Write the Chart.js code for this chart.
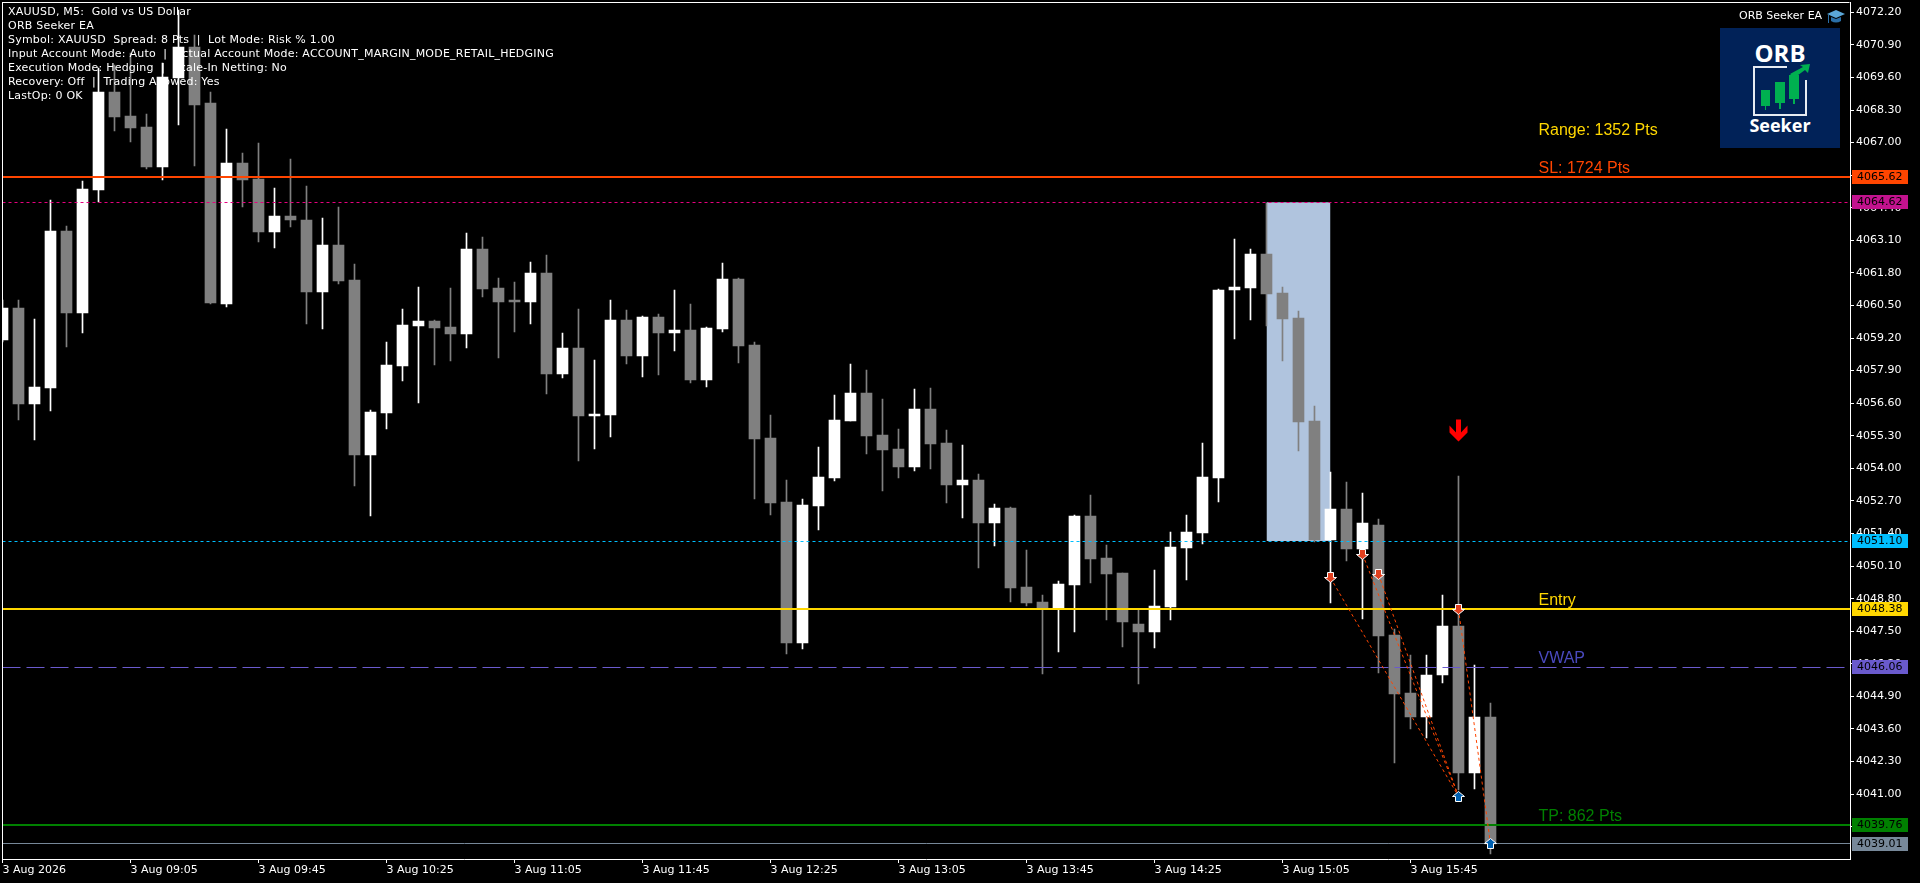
<!DOCTYPE html>
<html>
<head>
<meta charset="utf-8">
<title>XAUUSD, M5</title>
<script src="https://cdn.jsdelivr.net/npm/chart.js@4/dist/chart.umd.js"></script>
<style>
    html, body { margin: 0; padding: 0; background: #000; overflow: hidden; }
    #stage { position: relative; width: 1920px; height: 883px; }
    #chart { display: block; }
    #info {
        position: absolute; left: 8px; top: 5px;
        color: #fff; font: 11px/14px "DejaVu Sans", sans-serif; white-space: pre; letter-spacing: 0.22px;
    }
    #eaName {
        position: absolute; left: 1739px; top: 9px;
        color: #fff; font: 11px/14px "DejaVu Sans", sans-serif;
    }
    #hat { position: absolute; left: 1826px; top: 8px; }
    #logo { position: absolute; left: 1720px; top: 28px; }
</style>
</head>
<body>
<div id="stage">
    <canvas id="chart" width="1920" height="883"></canvas>
    <div id="info"></div>
    <div id="eaName">ORB Seeker EA</div>
    <svg id="hat" width="20" height="18" viewBox="0 0 20 18">
        <polygon points="1,6 10,2 19,6 10,10" fill="#5ba7d8"/>
        <path d="M5,9 L5,13 Q10,16 15,13 L15,9 L10,11 Z" fill="#2a6fa8"/>
        <rect x="2" y="7" width="1" height="8" fill="#2a6fa8"/>
    </svg>
    <svg id="logo" width="120" height="120" viewBox="0 0 120 120">
        <rect width="120" height="120" fill="#012258"/>
        <text x="60" y="34" text-anchor="middle" fill="#fff" font-family="Open Sans" font-weight="700" font-size="24">ORB</text>
        <path d="M67,39 L34,39 L34,87 L86,87 L86,52" fill="none" stroke="#e6ebf2" stroke-width="2"/>
        <rect x="41" y="62" width="9" height="16" fill="#00b050"/><rect x="45" y="78" width="1" height="4" fill="#00b050"/>
        <rect x="55" y="54" width="10" height="21" fill="#00b050"/><rect x="59" y="75" width="2" height="6" fill="#00b050"/>
        <rect x="69" y="47" width="10" height="24" fill="#00b050"/><rect x="73" y="71" width="2" height="5" fill="#00b050"/>
        <polygon points="70,46 83,39 80,37 90,36 88,45 85,42 74,50" fill="#00b050"/>
        <text x="60" y="104" text-anchor="middle" fill="#fff" font-family="Open Sans" font-weight="700" font-size="18">Seeker</text>
    </svg>
</div>
<script>
// ------------------------
// Data
// ------------------------

const opens = [
    4059.12, 4060.40, 4056.57, 4057.21, 4063.47, 4060.20, 4065.11, 4069.02, 4068.06, 4067.62,
    4066.03, 4069.58, 4070.81, 4068.58, 4060.56, 4066.19, 4065.55, 4063.43, 4064.07, 4063.91,
    4061.04, 4062.91, 4061.52, 4054.54, 4056.21, 4058.09, 4059.68, 4059.88, 4059.64, 4059.36,
    4062.75, 4061.20, 4060.72, 4060.64, 4061.80, 4057.77, 4058.80, 4056.09, 4056.13, 4059.92,
    4058.49, 4060.04, 4059.40, 4059.52, 4057.53, 4059.56, 4061.56, 4058.92, 4055.21, 4052.66,
    4047.03, 4052.50, 4053.62, 4055.89, 4057.01, 4055.33, 4054.77, 4054.06, 4056.37, 4055.01,
    4053.34, 4053.54, 4051.82, 4052.42, 4049.27, 4048.67, 4048.43, 4049.35, 4052.10, 4050.43,
    4049.83, 4047.79, 4047.47, 4048.47, 4050.82, 4051.42, 4053.62, 4061.12, 4061.20, 4062.56,
    4061.00, 4060.00, 4055.89, 4051.14, 4052.38, 4050.78, 4051.74, 4047.35, 4045.04, 4044.08,
    4045.76, 4047.71, 4041.85, 4044.08
];
const highs = [
    4060.72, 4060.72, 4059.96, 4064.71, 4063.67, 4065.47, 4069.98, 4070.10, 4070.58, 4068.14,
    4070.18, 4072.29, 4071.29, 4069.02, 4067.54, 4066.59, 4066.98, 4065.19, 4066.35, 4065.27,
    4063.99, 4064.43, 4062.16, 4056.33, 4059.04, 4060.36, 4061.24, 4059.92, 4061.20, 4063.39,
    4063.23, 4061.60, 4061.44, 4062.24, 4062.52, 4059.40, 4060.36, 4058.33, 4060.72, 4060.32,
    4060.08, 4060.16, 4061.12, 4060.56, 4059.64, 4062.20, 4061.60, 4059.04, 4056.13, 4053.54,
    4052.78, 4054.85, 4056.93, 4058.17, 4057.93, 4056.77, 4055.57, 4057.17, 4057.21, 4055.53,
    4054.93, 4053.78, 4052.58, 4052.46, 4050.74, 4048.95, 4049.51, 4052.14, 4052.94, 4050.94,
    4049.83, 4048.35, 4049.95, 4051.46, 4052.14, 4055.01, 4061.16, 4063.15, 4062.75, 4064.59,
    4061.24, 4060.28, 4056.49, 4053.86, 4053.46, 4053.02, 4051.98, 4047.59, 4046.56, 4046.56,
    4048.95, 4053.70, 4046.16, 4044.64
];
const lows = [
    4059.04, 4055.93, 4055.13, 4056.29, 4058.84, 4059.40, 4064.63, 4067.46, 4067.02, 4065.95,
    4065.51, 4067.70, 4066.07, 4060.56, 4060.44, 4064.43, 4063.03, 4062.79, 4063.63, 4059.76,
    4059.56, 4061.36, 4053.30, 4052.10, 4055.57, 4057.49, 4056.61, 4058.13, 4058.29, 4058.80,
    4060.84, 4058.41, 4059.44, 4059.76, 4056.97, 4057.61, 4054.30, 4054.77, 4055.25, 4058.17,
    4057.65, 4057.73, 4058.69, 4057.41, 4057.25, 4059.44, 4058.21, 4052.78, 4052.14, 4046.60,
    4046.79, 4051.54, 4053.50, 4055.89, 4054.58, 4053.10, 4053.62, 4053.90, 4053.98, 4052.62,
    4052.02, 4050.03, 4050.90, 4048.67, 4048.51, 4045.80, 4046.68, 4047.47, 4049.43, 4047.95,
    4046.87, 4045.40, 4046.83, 4047.95, 4049.55, 4050.98, 4052.66, 4059.16, 4059.92, 4059.68,
    4058.29, 4054.69, 4051.06, 4048.63, 4050.31, 4047.99, 4045.84, 4042.25, 4043.60, 4043.24,
    4045.44, 4041.17, 4041.21, 4038.62
];
const closes = [
    4060.40, 4056.57, 4057.25, 4063.47, 4060.20, 4065.15, 4069.02, 4068.02, 4067.58, 4066.03,
    4069.62, 4070.81, 4068.50, 4060.60, 4066.19, 4065.51, 4063.43, 4064.07, 4063.91, 4061.04,
    4062.91, 4061.48, 4054.54, 4056.25, 4058.13, 4059.72, 4059.88, 4059.60, 4059.36, 4062.75,
    4061.16, 4060.64, 4060.64, 4061.80, 4057.77, 4058.80, 4056.09, 4056.17, 4059.92, 4058.49,
    4060.04, 4059.40, 4059.52, 4057.53, 4059.60, 4061.56, 4058.88, 4055.17, 4052.62, 4047.03,
    4052.54, 4053.66, 4055.93, 4057.01, 4055.29, 4054.73, 4054.06, 4056.37, 4054.97, 4053.34,
    4053.54, 4051.82, 4052.42, 4049.23, 4048.63, 4048.43, 4049.39, 4052.10, 4050.39, 4049.79,
    4047.87, 4047.47, 4048.51, 4050.86, 4051.46, 4053.66, 4061.12, 4061.24, 4062.56, 4060.96,
    4059.96, 4055.85, 4051.14, 4052.38, 4050.78, 4051.82, 4047.31, 4045.00, 4044.08, 4045.76,
    4047.71, 4041.85, 4044.08, 4039.01
];

// time axis, one label every 8 bars
const timeTicks = [0, 8, 16, 24, 32, 40, 48, 56, 64, 72, 80, 88];
const timeLabels = [
    '3 Aug 2026', '3 Aug 09:05', '3 Aug 09:45', '3 Aug 10:25', '3 Aug 11:05', '3 Aug 11:45',
    '3 Aug 12:25', '3 Aug 13:05', '3 Aug 13:45', '3 Aug 14:25', '3 Aug 15:05', '3 Aug 15:45'
];
const priceTicks = [
    4072.20, 4070.90, 4069.60, 4068.30, 4067.00, 4065.70, 4064.40, 4063.10, 4061.80,
    4060.50, 4059.20, 4057.90, 4056.60, 4055.30, 4054.00, 4052.70, 4051.40, 4050.10,
    4048.80, 4047.50, 4046.20, 4044.90, 4043.60, 4042.30, 4041.00, 4039.70
];

// SL, range high, range low, entry, vwap, tp, last
const levelPrices = [4065.62, 4064.62, 4051.10, 4048.38, 4046.06, 4039.76, 4039.01];

// opening range box: first/last bar and the two prices
const rangeBars = [79, 83];
const rangePrices = [4064.62, 4051.10];

const noteTexts = ['Range: 1352 Pts', 'SL: 1724 Pts', 'Entry', 'VWAP', 'TP: 862 Pts'];
const notePrices = [4067.30, 4065.79, 4048.55, 4046.25, 4039.94];
const noteBar = 96;

// trades: sell entries and their exits
const signalBar = [91];
const signalPrice = [4055.51];
const sellBars = [83, 85, 86, 91];
const sellPrices = [4049.63, 4050.57, 4049.77, 4048.38];
const exitBars = [91, 91, 91, 93];
const exitPrices = [4040.91, 4040.91, 4040.91, 4039.01];

const infoLines = [
    'XAUUSD, M5:  Gold vs US Dollar',
    'ORB Seeker EA',
    'Symbol: XAUUSD  Spread: 8 Pts  |  Lot Mode: Risk % 1.00',
    'Input Account Mode: Auto  |  Actual Account Mode: ACCOUNT_MARGIN_MODE_RETAIL_HEDGING',
    'Execution Mode: Hedging  |  Scale-In Netting: No',
    'Recovery: Off  |  Trading Allowed: Yes',
    'LastOp: 0 OK'
];

// ------------------------
// Styles
// ------------------------

const UP = '#ffffff';
const DOWN = '#808080';
const TICK_FONT = { family: 'DejaVu Sans', size: 11 };

const levelStyles = [
    { color: '#ff4500', badge: '#ff4500', width: 2 },
    { color: '#e6007e', badge: '#c2128e', width: 1, dash: [3, 3] },
    { color: '#00bfff', badge: '#00bfff', width: 1, dash: [3, 3] },
    { color: '#ffd700', badge: '#ffd700', width: 2 },
    { color: '#6a5acd', badge: '#6a5acd', width: 1, dash: [18, 6] },
    { color: '#008000', badge: '#008000', width: 2 },
    { color: '#778899', badge: '#778899', width: 1 }
];
const noteColors = ['#ffd700', '#ff4500', '#ffd700', '#4a4abf', '#008000'];

// Arrow glyph for point styles, canvas size stays odd so it lands on whole pixels
const makeArrow = (w, h, shaft, head, barb, fill, stroke, up) => {
    const c = document.createElement('canvas');
    c.width = w + 3;
    c.height = h + 3;
    const ctx = c.getContext('2d');
    ctx.translate(1.5, 1.5);
    if (up) {
        ctx.translate(0, h);
        ctx.scale(1, -1);
    }
    const mid = w / 2;
    ctx.beginPath();
    ctx.moveTo(mid - shaft / 2, 0);
    ctx.lineTo(mid + shaft / 2, 0);
    ctx.lineTo(mid + shaft / 2, h - head);
    ctx.lineTo(w, h - head - barb);
    ctx.lineTo(w, h - head);
    ctx.lineTo(mid, h);
    ctx.lineTo(0, h - head);
    ctx.lineTo(0, h - head - barb);
    ctx.lineTo(mid - shaft / 2, h - head);
    ctx.closePath();
    ctx.fillStyle = fill;
    ctx.fill();
    if (stroke) {
        ctx.strokeStyle = stroke;
        ctx.lineWidth = 1;
        ctx.stroke();
    }
    return c;
};

const barIndex = opens.map((_, i) => i);
const candleColors = barIndex.map(i => closes[i] >= opens[i] ? UP : DOWN);

// ------------------------
// Datasets
// ------------------------

const X_MAX = 115.47;

const levelSets = levelPrices.map((p, i) => ({
    type: 'line',
    data: [{ x: 0, y: p }, { x: X_MAX, y: p }],
    borderColor: levelStyles[i].color,
    borderWidth: levelStyles[i].width,
    borderDash: levelStyles[i].dash || [],
    pointRadius: 0,
    snapY: true,
    order: 4
}));

const tradeSets = sellBars.map((b, i) => ({
    type: 'line',
    data: [{ x: b, y: sellPrices[i] }, { x: exitBars[i], y: exitPrices[i] }],
    borderColor: '#ff4500',
    borderWidth: 1,
    borderDash: [3, 3],
    pointRadius: 0,
    order: 3
}));

const arrowSet = (bars, prices, glyph) => ({
    type: 'line',
    showLine: false,
    data: bars.map((b, i) => ({ x: b, y: prices[i] })),
    pointStyle: glyph,
    pointRadius: 6,
    borderWidth: 1,
    snapY: true,
    order: 1
});

const datasets = [
    {
        type: 'line',
        data: rangeBars.map(b => ({ x: b, y: rangePrices[0] })),
        borderWidth: 0,
        pointRadius: 0,
        backgroundColor: '#b0c4de',
        fill: { value: rangePrices[1] },
        order: 10
    },
    {
        type: 'bar',
        data: barIndex.map(i => ({ x: i, y: [lows[i], highs[i]] })),
        backgroundColor: candleColors,
        barThickness: 1,
        grouped: false,
        order: 9
    },
    {
        type: 'bar',
        data: barIndex.map(i => ({ x: i, y: [opens[i], closes[i]] })),
        backgroundColor: candleColors,
        barThickness: 11,
        grouped: false,
        order: 8
    },
    ...levelSets,
    ...tradeSets,
    arrowSet(signalBar, signalPrice, makeArrow(18, 22, 5, 9, 7, '#ff0000', null, false)),
    arrowSet(sellBars, sellPrices, makeArrow(12, 10, 6, 5, 0, '#e2401f', '#ffffff', false)),
    arrowSet([exitBars[2], exitBars[3]], [exitPrices[2], exitPrices[3]], makeArrow(12, 10, 6, 5, 0, '#0060b0', '#ffffff', true))
];

// ------------------------
// Plugins
// ------------------------

// Snap candles, level lines and arrows to whole pixels, the platform draws them without smoothing
const snapPlugin = {
    id: 'snap',
    afterDatasetsUpdate(chart) {
        chart.getSortedVisibleDatasetMetas().forEach(meta => {
            const ds = chart.data.datasets[meta.index];
            if (meta.type === 'bar') {
                meta.data.forEach(b => {
                    b.y = Math.round(b.y);
                    b.base = Math.round(b.base);
                    if (b.y === b.base) b.base += 1;
                });
            } else if (ds.snapY) {
                meta.data.forEach(pt => {
                    pt.y = ds.borderWidth === 2 ? Math.round(pt.y) : Math.floor(pt.y) + 0.5;
                });
            }
        });
    }
};

// Chart frame, the axes only cover the bottom and right side
const framePlugin = {
    id: 'frame',
    afterDraw(chart) {
        const { ctx, chartArea: a } = chart;
        ctx.save();
        ctx.fillStyle = '#ffffff';
        ctx.fillRect(Math.floor(a.left), Math.floor(a.top), a.right - a.left, 1);
        ctx.fillRect(Math.floor(a.left), Math.floor(a.top), 1, a.bottom - a.top);
        ctx.restore();
    }
};

// Text notes over the levels and the price badges on the axis
const notesPlugin = {
    id: 'notes',
    afterDraw(chart) {
        const { ctx, scales: { x, y }, chartArea: a } = chart;
        ctx.save();
        ctx.textBaseline = 'alphabetic';
        ctx.textAlign = 'left';
        ctx.font = '16px "Liberation Sans"';
        noteTexts.forEach((t, i) => {
            ctx.fillStyle = noteColors[i];
            ctx.fillText(t, x.getPixelForValue(noteBar), y.getPixelForValue(notePrices[i]));
        });
        ctx.font = '11px "DejaVu Sans"';
        ctx.textBaseline = 'middle';
        levelPrices.forEach((p, i) => {
            const py = y.getPixelForValue(p);
            ctx.fillStyle = levelStyles[i].badge;
            ctx.fillRect(a.right + 2, Math.round(py) - 7, 56, 14);
            ctx.fillStyle = '#000000';
            ctx.fillText(p.toFixed(2), a.right + 7, Math.round(py));
        });
        ctx.restore();
    }
};

// No padding for labels, the plot area has to sit exactly on the frame
const noScalePadding = scale => {
    scale.paddingLeft = 0;
    scale.paddingRight = 0;
    scale.paddingTop = 0;
    scale.paddingBottom = 0;
};

// ------------------------
// Chart
// ------------------------

document.getElementById('info').textContent = infoLines.join('\n');

new Chart(document.getElementById('chart'), {
    type: 'bar',
    data: { datasets },
    options: {
        responsive: false,
        animation: false,
        layout: { autoPadding: false, padding: { left: 2.5, top: 2 } },
        plugins: { legend: { display: false }, tooltip: { enabled: false } },
        scales: {
            x: {
                type: 'linear',
                min: 0,
                max: X_MAX,
                offset: false,
                afterBuildTicks: scale => { scale.ticks = timeTicks.map(v => ({ value: v })); },
                afterFit: scale => { scale.height = 24; noScalePadding(scale); },
                grid: { drawOnChartArea: false, offset: false, color: '#ffffff', tickLength: 4 },
                border: { color: '#ffffff' },
                ticks: {
                    color: '#ffffff',
                    font: TICK_FONT,
                    align: 'start',
                    padding: 1,
                    maxRotation: 0,
                    autoSkip: false,
                    callback: v => timeLabels[timeTicks.indexOf(v)]
                }
            },
            y: {
                position: 'right',
                min: 4038.41,
                max: 4072.61,
                afterBuildTicks: scale => { scale.ticks = priceTicks.map(v => ({ value: v })); },
                afterFit: scale => { scale.width = 70; noScalePadding(scale); },
                grid: { drawOnChartArea: false, color: '#ffffff', tickLength: 4 },
                border: { color: '#ffffff' },
                ticks: {
                    color: '#ffffff',
                    font: TICK_FONT,
                    padding: 2,
                    autoSkip: false,
                    callback: v => v.toFixed(2)
                }
            }
        }
    },
    plugins: [snapPlugin, framePlugin, notesPlugin]
});
</script>
</body>
</html>
